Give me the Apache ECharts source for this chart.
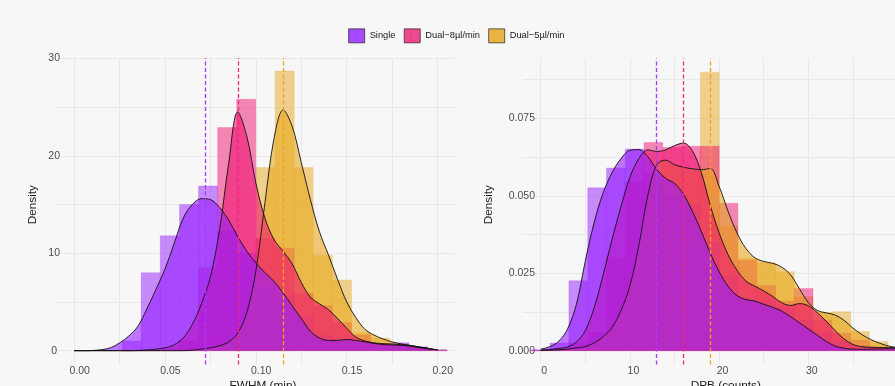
<!DOCTYPE html>
<html>
<head>
<meta charset="utf-8">
<script src="https://cdn.jsdelivr.net/npm/echarts@6/dist/echarts.min.js"></script>
<style>
html,body{margin:0;padding:0;background:#f7f7f7;}
#chart{width:895px;height:386px;}
</style>
</head>
<body>
<div id="chart"></div>
<script>
// ---------------- DATA ----------------
const groupNames = ['Single', 'Dual\u22128\u00b5l/min', 'Dual\u22125\u00b5l/min'];

// Left panel: FWHM (min)
const fwhmTicks = [0.00, 0.05, 0.10, 0.15, 0.20];
const fwhmBinWidth = 0.010526;
const fwhmBins = [0.0316,0.0421,0.0526,0.0632,0.0737,0.0842,0.0947,0.1053,0.1158,0.1263,0.1368,0.1474,0.1579,0.1684,0.1789,0.1895,0.2000];
const fwhmHistSingle = [1.0,8.0,11.8,15.0,16.9,12.3,10.0,6.6,5.6,3.4,1.6,1.2,1.0,0.7,0.8,0.4,0.1];
const fwhmHistDual8  = [0,0,0.3,1.1,8.5,22.9,25.8,11.5,10.5,5.9,4.6,2.9,1.6,0.7,0.4,0.3,0.05];
const fwhmHistDual5  = [0,0,0,0,0.3,0.9,3.5,18.8,28.7,18.8,9.8,7.25,1.85,1.3,0.5,0.3,0.1];
const fwhmX = [0.000,0.005,0.010,0.015,0.020,0.025,0.030,0.035,0.040,0.045,0.050,0.055,0.060,0.065,0.070,0.075,0.080,0.085,0.090,0.095,0.100,0.105,0.110,0.115,0.120,0.125,0.130,0.135,0.140,0.145,0.150,0.155,0.160,0.165,0.170,0.175,0.180,0.185,0.190,0.195,0.200];
const fwhmDensSingle = [0,0,0.02,0.1,0.3,0.8,1.5,2.5,4.3,6.3,8.4,11.0,13.6,15.0,15.6,15.5,14.7,13.4,11.7,10.2,9.0,8.0,7.1,5.9,4.6,3.3,2.0,1.3,1.05,1.05,1.15,1.05,0.9,0.75,0.63,0.58,0.55,0.45,0.3,0.18,0.08];
const fwhmDensDual8  = [0,0,0,0,0,0,0,0.02,0.08,0.15,0.3,0.6,1.3,2.7,4.8,7.6,12.4,19.2,24.5,22.0,17.2,13.6,11.4,10.2,8.9,7.0,5.5,4.8,4.2,3.3,2.3,1.4,1.0,0.8,0.72,0.68,0.62,0.52,0.38,0.22,0.08];
const fwhmDensDual5  = [0,0,0,0,0,0,0,0,0,0,0,0,0,0.05,0.15,0.3,0.5,0.9,1.8,3.9,8.2,15.2,21.8,24.7,23.0,19.3,15.5,12.2,9.8,7.3,5.0,3.4,2.2,1.6,1.2,0.9,0.7,0.55,0.38,0.22,0.08];
const fwhmMeans = [0.0720, 0.0905, 0.1151];

// Right panel: DPB (counts)
const dpbTicks = [0, 10, 20, 30, 40];
const dpbBinWidth = 2.1053;
const dpbBins = [0.00,2.11,4.21,6.32,8.42,10.53,12.63,14.74,16.84,18.95,21.05,23.16,25.26,27.37,29.47,31.58,33.68,35.79,37.89,40.00];
const dpbHistSingle = [0.0003,0.0025,0.0226,0.0526,0.0590,0.0651,0.0570,0.0500,0.0470,0.0350,0.0240,0.0170,0.0160,0.0140,0.0100,0.0060,0.0030,0.0015,0.0010,0.0005];
const dpbHistDual8  = [0.0002,0.0005,0.0025,0.0060,0.0300,0.0545,0.0672,0.0656,0.0660,0.0660,0.0476,0.0292,0.0210,0.0160,0.0201,0.0099,0.0056,0.0034,0.0013,0.0005];
const dpbHistDual5  = [0.0000,0.0002,0.0005,0.0025,0.0080,0.0250,0.0520,0.0600,0.0580,0.0899,0.0402,0.0298,0.0284,0.0255,0.0175,0.0124,0.0126,0.0062,0.0030,0.0010];
const dpbX = [0,1,2,3,4,5,6,7,8,9,10,11,12,13,14,15,16,17,18,19,20,21,22,23,24,25,26,27,28,29,30,31,32,33,34,35,36,37,38,39,40];
const dpbDensSingle = [0.0005,0.0013,0.0030,0.0070,0.0150,0.0290,0.0415,0.0510,0.0575,0.0620,0.0647,0.0649,0.0626,0.0585,0.0556,0.0540,0.0505,0.0450,0.0385,0.0315,0.0255,0.0208,0.0178,0.0165,0.0160,0.0150,0.0140,0.0128,0.0110,0.0090,0.0070,0.0050,0.0030,0.0015,0.0008,0.0005,0.00045,0.0005,0.00055,0.0006,0.0007];
const dpbDensDual8  = [0.0002,0.0004,0.0007,0.0012,0.0028,0.0065,0.0140,0.0245,0.0360,0.0465,0.0560,0.0620,0.0648,0.0643,0.0648,0.0662,0.0670,0.0645,0.0575,0.0470,0.0380,0.0310,0.0260,0.0225,0.0208,0.0193,0.0175,0.0155,0.0146,0.0152,0.0145,0.0123,0.0095,0.0065,0.0038,0.0020,0.0013,0.0011,0.0010,0.0010,0.0010];
const dpbDensDual5  = [0.0001,0.00015,0.0003,0.0005,0.0009,0.0013,0.0025,0.0045,0.0075,0.0130,0.0210,0.0340,0.0500,0.0600,0.0615,0.0600,0.0592,0.0587,0.0584,0.0588,0.0530,0.0450,0.0380,0.0330,0.0300,0.0288,0.0282,0.0270,0.0245,0.0200,0.0155,0.0130,0.0122,0.0115,0.0098,0.0073,0.0052,0.0036,0.0024,0.0015,0.0010];
const dpbMeans = [13.0, 16.0, 19.0];

// ---------------- STYLE ----------------
const baseColors = ['#961EFF', '#F01470', '#E8A820'];
const meanColors = ['#A43CFF', '#EE2A80', '#F0A21E'];
const legendFill = ['#A64BFF', '#EE4B8F', '#E9B545'];
const BAR_ALPHA = 0.5, DENS_ALPHA = 0.6;
const FONT = '"Liberation Sans", Arial, Helvetica, sans-serif';
const GRID_COLOR = '#e9e9e9';
const BG = '#f7f7f7';

function rgba(hex, a) {
  const n = parseInt(hex.slice(1), 16);
  return 'rgba(' + ((n >> 16) & 255) + ',' + ((n >> 8) & 255) + ',' + (n & 255) + ',' + a + ')';
}

function histSeries(gi, centers, heights, binW, axisIdx) {
  const col = baseColors[gi];
  return {
    type: 'custom', name: groupNames[gi],
    xAxisIndex: axisIdx, yAxisIndex: axisIdx,
    clip: true, silent: true, z: 2,
    data: centers.map((c, i) => [c, heights[i]]),
    encode: { x: 0, y: 1 },
    renderItem: function (params, api) {
      const c = api.value(0), h = api.value(1);
      const p0 = api.coord([c - binW / 2, h]);
      const p1 = api.coord([c + binW / 2, 0]);
      return {
        type: 'rect',
        shape: { x: p0[0], y: p0[1], width: p1[0] - p0[0], height: p1[1] - p0[1] },
        style: { fill: rgba(col, BAR_ALPHA), stroke: rgba(col, 0.3), lineWidth: 0.6 }
      };
    }
  };
}

function densSeries(gi, xs, ys, axisIdx) {
  return {
    type: 'line', name: groupNames[gi],
    xAxisIndex: axisIdx, yAxisIndex: axisIdx,
    data: xs.map((x, i) => [x, ys[i]]),
    smooth: 0.35, symbol: 'none', silent: true, z: 2,
    lineStyle: { color: '#111', width: 0.9 },
    areaStyle: { color: rgba(baseColors[gi], DENS_ALPHA), opacity: 1 },
    itemStyle: { color: baseColors[gi] }
  };
}

function meanSeries(means, axisIdx) {
  return {
    type: 'line', xAxisIndex: axisIdx, yAxisIndex: axisIdx, data: [], z: 5, silent: true,
    markLine: {
      silent: true, symbol: ['none', 'none'], label: { show: false }, animation: false, precision: 6,
      data: means.map((m, i) => ({ xAxis: m, lineStyle: { color: meanColors[i], type: [4, 2.5], width: 1.3 } }))
    }
  };
}

const order = [2, 1, 0]; // Dual-5 at back, Single in front
const series = [];
const leftHist = [fwhmHistSingle, fwhmHistDual8, fwhmHistDual5];
const leftDens = [fwhmDensSingle, fwhmDensDual8, fwhmDensDual5];
const rightHist = [dpbHistSingle, dpbHistDual8, dpbHistDual5];
const rightDens = [dpbDensSingle, dpbDensDual8, dpbDensDual5];
order.forEach(g => series.push(histSeries(g, fwhmBins, leftHist[g], fwhmBinWidth, 0)));
order.forEach(g => series.push(densSeries(g, fwhmX, leftDens[g], 0)));
series.push(meanSeries(fwhmMeans, 0));
order.forEach(g => series.push(histSeries(g, dpbBins, rightHist[g], dpbBinWidth, 3)));
order.forEach(g => series.push(densSeries(g, dpbX, rightDens[g], 3)));
series.push(meanSeries(dpbMeans, 3));

const gridBase = { containLabel: false, outerBoundsMode: 'none' };
const hidden = { show: false };
const labelStyle = { color: '#4d4d4d', fontSize: 10.5, fontFamily: FONT };

function isMult(v, step) { const r = Math.round(v / step); return Math.abs(v - r * step) < 1e-9; }

const option = {
  backgroundColor: BG,
  animation: false,
  grid: [
    Object.assign({ left: 56.1, top: 58.0, width: 399.6, height: 306.6 }, gridBase),
    Object.assign({ left: 74.3, top: 58.0, width: 363.2, height: 306.6 }, gridBase),
    Object.assign({ left: 56.1, top: 58.3, width: 399.6, height: 292.4 }, gridBase),
    Object.assign({ left: 522.9, top: 58.5, width: 392.5, height: 306.1 }, gridBase),
    Object.assign({ left: 540.7, top: 58.5, width: 356.8, height: 306.1 }, gridBase),
    Object.assign({ left: 522.9, top: 79.6, width: 392.5, height: 271.1 }, gridBase)
  ],
  xAxis: [
    { gridIndex: 0, type: 'value', min: -0.01, max: 0.21, show: false },
    { gridIndex: 1, type: 'value', min: fwhmTicks[0], max: fwhmTicks[fwhmTicks.length - 1], interval: 0.025,
      axisLine: hidden, axisTick: hidden,
      splitLine: { show: true, lineStyle: { color: GRID_COLOR, width: 1 } },
      axisLabel: Object.assign({ margin: 1, padding: [0, 0, 0, 10.6],
        formatter: v => isMult(v, 0.05) ? v.toFixed(2) : '' }, labelStyle) },
    { gridIndex: 2, type: 'value', min: -0.01, max: 0.21, show: false },
    { gridIndex: 3, type: 'value', min: -2, max: 42, show: false },
    { gridIndex: 4, type: 'value', min: dpbTicks[0], max: dpbTicks[dpbTicks.length - 1], interval: 5,
      axisLine: hidden, axisTick: hidden,
      splitLine: { show: true, lineStyle: { color: GRID_COLOR, width: 1 } },
      axisLabel: Object.assign({ margin: 1, padding: [0, 0, 0, 7],
        formatter: v => isMult(v, 10) ? String(v) : '' }, labelStyle) },
    { gridIndex: 5, type: 'value', min: -2, max: 42, show: false }
  ],
  yAxis: [
    { gridIndex: 0, type: 'value', min: -1.43, max: 30.03, show: false },
    { gridIndex: 1, type: 'value', min: -1.43, max: 30.03, show: false },
    { gridIndex: 2, type: 'value', min: 0, max: 30, interval: 5,
      axisLine: hidden, axisTick: hidden,
      splitLine: { show: true, lineStyle: { color: GRID_COLOR, width: 1 } },
      axisLabel: Object.assign({ margin: 1.9, align: 'center', backgroundColor: BG,
        formatter: v => isMult(v, 10) ? String(Math.round(v)) : '' }, labelStyle) },
    { gridIndex: 3, type: 'value', min: -0.00449, max: 0.0943, show: false },
    { gridIndex: 4, type: 'value', min: -0.00449, max: 0.0943, show: false },
    { gridIndex: 5, type: 'value', min: 0, max: 0.0875, interval: 0.0125,
      axisLine: hidden, axisTick: hidden,
      splitLine: { show: true, lineStyle: { color: GRID_COLOR, width: 1 } },
      axisLabel: Object.assign({ margin: 1, align: 'center', backgroundColor: BG,
        formatter: v => isMult(v, 0.025) ? v.toFixed(3) : '' }, labelStyle) }
  ],
  legend: {
    left: 348.3, top: 28.5, padding: 0, itemWidth: 16, itemHeight: 14, itemGap: 8.4,
    icon: 'rect', selectedMode: false,
    textStyle: { fontSize: 9.3, fontFamily: FONT, color: '#1a1a1a' },
    data: groupNames.map((n, i) => ({ name: n, icon: 'rect',
      itemStyle: { color: legendFill[i], borderColor: '#222', borderWidth: 0.7 } }))
  },
  graphic: [
    { type: 'text', x: 32.5, y: 204.7, rotation: Math.PI / 2,
      style: { text: 'Density', fontSize: 11.8, fontFamily: FONT, fill: '#1a1a1a', align: 'center', verticalAlign: 'middle' } },
    { type: 'text', x: 488.3, y: 204.7, rotation: Math.PI / 2,
      style: { text: 'Density', fontSize: 11.8, fontFamily: FONT, fill: '#1a1a1a', align: 'center', verticalAlign: 'middle' } },
    { type: 'text', x: 263, y: 380, style: { text: 'FWHM (min)', fontSize: 11.8, fontFamily: FONT, fill: '#1a1a1a', align: 'center', verticalAlign: 'top' } },
    { type: 'text', x: 725.8, y: 380, style: { text: 'DPB (counts)', fontSize: 11.8, fontFamily: FONT, fill: '#1a1a1a', align: 'center', verticalAlign: 'top' } },
    { type: 'line', z: 100, shape: { x1: 356.3, y1: 29, x2: 356.3, y2: 42 }, style: { stroke: meanColors[0], lineWidth: 1, lineDash: [2, 1.5] } },
    { type: 'line', z: 100, shape: { x1: 410.7, y1: 29, x2: 410.7, y2: 42 }, style: { stroke: meanColors[1], lineWidth: 1, lineDash: [2, 1.5] } },
    { type: 'line', z: 100, shape: { x1: 493.7, y1: 29, x2: 493.7, y2: 42 }, style: { stroke: meanColors[2], lineWidth: 1, lineDash: [2, 1.5] } }
  ],
  series: series
};

const chart = echarts.init(document.getElementById('chart'), null, { renderer: 'canvas' });
chart.setOption(option);
</script>
</body>
</html>
